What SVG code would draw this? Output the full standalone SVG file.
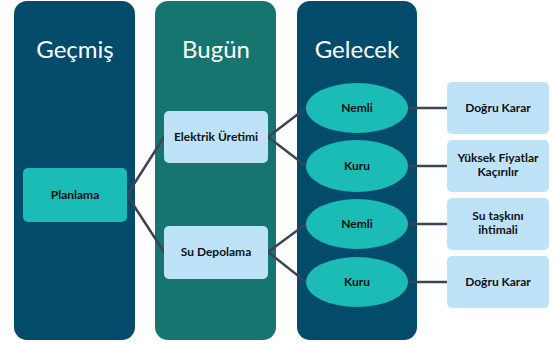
<svg xmlns="http://www.w3.org/2000/svg" width="557" height="345" viewBox="0 0 557 345">
<style>
.col{stroke:none}
.title{font-family:Lato,"Open Sans",sans-serif;font-size:24px;fill:#ffffff;text-anchor:middle}
.lbl{font-family:Lato,"Open Sans",sans-serif;font-size:12px;font-weight:bold;fill:#111111;text-anchor:middle}
.lblr{font-family:Lato,"Open Sans",sans-serif;font-size:12px;font-weight:bold;fill:#111111;text-anchor:middle}
.lb{fill:#bee3f8}
.tl{fill:#1abcb5}
.conn line{stroke:#3b4556;stroke-width:2.5;stroke-linecap:round}
</style>
<rect width="557" height="345" fill="#ffffff"/>
<g id="col-gecmis">
<rect class="col" x="14" y="1" width="121" height="339" rx="13" fill="#034b6b"/>
<text class="title" x="75" y="58">Geçmiş</text>
</g>
<g id="col-bugun">
<rect class="col" x="155" y="1" width="121" height="339" rx="13" fill="#16756f"/>
<text class="title" x="216" y="58">Bugün</text>
</g>
<g id="col-gelecek">
<rect class="col" x="297" y="1" width="120" height="339" rx="13" fill="#034b6b"/>
<text class="title" x="357" y="58">Gelecek</text>
</g>
<g class="conn" id="connectors">
<line x1="127" y1="195" x2="164" y2="137"/>
<line x1="127" y1="195" x2="164" y2="252"/>
<line x1="268" y1="137" x2="306" y2="108"/>
<line x1="268" y1="137" x2="306" y2="166"/>
<line x1="268" y1="252" x2="306" y2="224"/>
<line x1="268" y1="252" x2="306" y2="282"/>
<line x1="408" y1="108" x2="447" y2="108"/>
<line x1="408" y1="166" x2="447" y2="166"/>
<line x1="408" y1="224" x2="447" y2="224"/>
<line x1="408" y1="282" x2="447" y2="282"/>
</g>
<g id="planlama">
<rect class="tl" x="23" y="168" width="104" height="54" rx="5"/>
<text class="lbl" x="75" y="199">Planlama</text>
</g>
<g id="elektrik">
<rect class="lb" x="164" y="111" width="104" height="52" rx="5"/>
<text class="lbl" x="216" y="141">Elektrik Üretimi</text>
</g>
<g id="depolama">
<rect class="lb" x="164" y="226" width="104" height="53" rx="5"/>
<text class="lbl" x="216" y="256">Su Depolama</text>
</g>
<g id="nemli1">
<ellipse class="tl" cx="357" cy="108" rx="51" ry="25"/>
<text class="lbl" x="357" y="112">Nemli</text>
</g>
<g id="kuru1">
<ellipse class="tl" cx="357" cy="166" rx="51" ry="26"/>
<text class="lbl" x="357" y="170">Kuru</text>
</g>
<g id="nemli2">
<ellipse class="tl" cx="357" cy="224" rx="51" ry="25"/>
<text class="lbl" x="357" y="228">Nemli</text>
</g>
<g id="kuru2">
<ellipse class="tl" cx="357" cy="282" rx="51" ry="25"/>
<text class="lbl" x="357" y="286">Kuru</text>
</g>
<g id="dogru1">
<rect class="lb" x="447" y="82" width="102" height="52" rx="5"/>
<text class="lblr" x="498" y="112">Doğru Karar</text>
</g>
<g id="yuksek">
<rect class="lb" x="447" y="140" width="102" height="52" rx="5"/>
<text class="lblr" x="498" y="161.5">Yüksek Fiyatlar</text>
<text class="lblr" x="498" y="176">Kaçırılır</text>
</g>
<g id="taskin">
<rect class="lb" x="447" y="198" width="102" height="52" rx="5"/>
<text class="lblr" x="498" y="219.5">Su taşkını</text>
<text class="lblr" x="498" y="234">ihtimali</text>
</g>
<g id="dogru2">
<rect class="lb" x="447" y="256" width="102" height="52" rx="5"/>
<text class="lblr" x="498" y="286">Doğru Karar</text>
</g>
</svg>
